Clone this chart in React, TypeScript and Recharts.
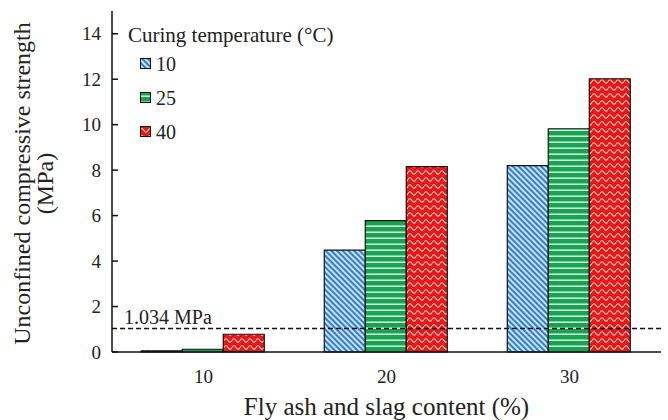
import { BarChart, Bar, XAxis, YAxis, ReferenceLine, Label } from 'recharts';

const contents = ['10', '20', '30'];
const temps = ['10', '25', '40'];
const ucs10 = [0.05, 4.48, 8.2];
const ucs25 = [0.12, 5.78, 9.82];
const ucs40 = [0.78, 8.15, 12.02];
const yTicks = [0, 2, 4, 6, 8, 10, 12, 14];
const limit = 1.034;

const series = [
  { key: 't10', name: temps[0], fill: 'url(#patBlue)' },
  { key: 't25', name: temps[1], fill: 'url(#patGreen)' },
  { key: 't40', name: temps[2], fill: 'url(#patRed)' },
];

const data = contents.map((c, i) => ({
  content: c,
  t10: ucs10[i],
  t25: ucs25[i],
  t40: ucs40[i],
}));

const serif = "'Times New Roman', 'Liberation Serif', serif";

function Patterns() {
  return (
    <defs>
      <pattern id="patBlue" width="4" height="4" patternUnits="userSpaceOnUse" patternTransform="rotate(-45)">
        <rect width="4" height="4" fill="#bfe4f6" />
        <rect width="2" height="4" fill="#3b7cc4" />
      </pattern>
      <pattern id="patGreen" width="10" height="6" patternUnits="userSpaceOnUse">
        <rect width="10" height="6" fill="#17a451" />
        <rect y="3.5" width="10" height="1.4" fill="#e8f8ec" />
      </pattern>
      <pattern id="patRed" width="8" height="7" patternUnits="userSpaceOnUse">
        <rect width="8" height="7" fill="#e8171d" />
        <path d="M0,4.5 Q2,1 4,4.5 T8,4.5" stroke="#ffd9b8" strokeWidth="1.1" fill="none" />
      </pattern>
    </defs>
  );
}

function YTitle(props: any) {
  const { viewBox } = props;
  const cy = viewBox.y + viewBox.height / 2 + 2;
  return (
    <text
      transform={`translate(30, ${cy}) rotate(-90)`}
      textAnchor="middle"
      fontFamily={serif}
      fontSize={24}
      fill="#222"
    >
      <tspan x={0} dy={0}>Unconfined compressive strength</tspan>
      <tspan x={0} dy={23}>(MPa)</tspan>
    </text>
  );
}

function LimitLabel(props: any) {
  const { viewBox } = props;
  return (
    <text x={viewBox.x + 12} y={viewBox.y - 4} fontFamily={serif} fontSize={20} fill="#222">
      1.034 MPa
    </text>
  );
}

function LegendBox() {
  return (
    <div style={{ position: 'absolute', left: 128, top: 23, fontFamily: serif, color: '#222' }}>
      <div style={{ fontSize: 21, lineHeight: '24px', whiteSpace: 'nowrap' }}>Curing temperature (°C)</div>
      {series.map((s) => (
        <div key={s.key} style={{ display: 'flex', alignItems: 'center', marginLeft: 12, height: 34 }}>
          <svg width={12} height={12} style={{ marginRight: 4 }}>
            <rect x={0.5} y={0.5} width={10} height={10} fill={s.fill} stroke="#111" strokeWidth={1} />
          </svg>
          <span style={{ fontSize: 20 }}>{s.name}</span>
        </div>
      ))}
    </div>
  );
}

export default function App() {
  return (
    <div style={{ position: 'absolute', left: 0, top: 0, width: 668, height: 420, background: '#fff' }}>
      <BarChart
        width={668}
        height={420}
        data={data}
        margin={{ top: 11, right: 7, bottom: 0, left: 0 }}
        barCategoryGap="16%"
        barGap={0}
      >
        <Patterns />
        <XAxis
          xAxisId="bounds"
          type="number"
          domain={[0, 3]}
          ticks={[1, 2]}
          height={0}
          tick={false}
          axisLine={false}
          tickSize={-6}
          tickLine={{ stroke: '#111', strokeWidth: 1.5 }}
        />
        <XAxis
          xAxisId="cat"
          dataKey="content"
          height={68}
          tickLine={false}
          axisLine={{ stroke: '#111', strokeWidth: 1.5 }}
          tick={{ fill: '#222', fontSize: 19, fontFamily: serif }}
          tickMargin={12}
        >
          <Label
            value="Fly ash and slag content (%)"
            position="insideBottom"
            offset={5}
            style={{ fill: '#222', fontSize: 25, fontFamily: serif }}
          />
        </XAxis>
        <XAxis xAxisId="top" orientation="top" height={0} tick={false} tickLine={false} axisLine={{ stroke: '#111', strokeWidth: 1.5 }} />
        <YAxis
          yAxisId="left"
          width={112}
          domain={[0, 15]}
          ticks={yTicks}
          interval={0}
          tickSize={-6}
          tickMargin={17}
          tickLine={{ stroke: '#111', strokeWidth: 1.5 }}
          axisLine={{ stroke: '#111', strokeWidth: 1.5 }}
          tick={{ fill: '#222', fontSize: 19, fontFamily: serif }}
        >
          <Label content={YTitle} />
        </YAxis>
        <YAxis yAxisId="right" orientation="right" width={0} tick={false} tickLine={false} axisLine={{ stroke: '#111', strokeWidth: 1.5 }} />
        {series.map((s) => (
          <Bar
            key={s.key}
            dataKey={s.key}
            name={s.name}
            xAxisId="cat"
            yAxisId="left"
            fill={s.fill}
            stroke="#111"
            strokeWidth={1.2}
            isAnimationActive={false}
          />
        ))}
        <ReferenceLine
          y={limit}
          xAxisId="cat"
          yAxisId="left"
          stroke="#111"
          strokeWidth={1.3}
          strokeDasharray="5 3"
        >
          <Label content={LimitLabel} />
        </ReferenceLine>
      </BarChart>
      <LegendBox />
    </div>
  );
}
